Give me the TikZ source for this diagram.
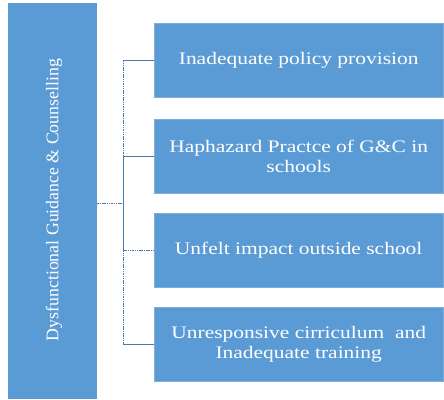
\documentclass[tikz,border=0pt]{standalone}
\usepackage{fontspec}
\setmainfont{Liberation Serif}
\newfontfamily\widefont[FakeStretch=1.22]{Liberation Serif}
\definecolor{boxblue}{HTML}{5B9BD5}
\definecolor{linkblue}{HTML}{4A7AB0}
\begin{document}
\begin{tikzpicture}[x=1pt,y=-1pt,
  causebox/.style={draw=boxblue!80!white, fill=boxblue, text=white, anchor=north west,
    minimum width=289pt, minimum height=74pt, align=center, inner sep=0pt,
    font=\widefont\fontsize{17.6}{19.5}\selectfont},
  mainbox/.style={fill=boxblue, text=white, anchor=north west,
    minimum width=89pt, minimum height=396pt, inner sep=0pt},
  link/.style={draw=linkblue, line width=0.7pt},
  linkdash/.style={link, dash pattern=on 1.5pt off 0.8pt}]
\useasboundingbox (0,0) rectangle (444,399);

% main topic, written upward
\node[mainbox] (main) at (8,3) {};
\node[text=white, rotate=90, font=\fontsize{17.8}{20}\selectfont] (title) at (54,200)
  {Dysfunctional Guidance \& Counselling};

% the four causes
\node[causebox] (c1) at (154,23) {Inadequate policy provision};
\node[causebox] (c2) at (154,119) {Haphazard Practce of G\&C in\\schools};
\node[causebox] (c3) at (154,213) {Unfelt impact outside school};
\node[causebox] (c4) at (154,307) {Unresponsive cirriculum\ \ and\\Inadequate training};

% bracket joining the topic to its causes
\coordinate (hub) at (123,203);
\coordinate (j1) at (hub |- c1.west);
\coordinate (j2) at (hub |- c2.west);
\coordinate (j3) at (hub |- c3.west);
\coordinate (j4) at (hub |- c4.west);
\draw[linkdash] (main.east |- hub) -- (hub);
\draw[linkdash] (j1) -- (j2);
\draw[link] (j2) -- (j3);
\draw[linkdash] (j3) -- (j4);
\draw[link] (j1) -- (c1.west);
\draw[link] (j2) -- (c2.west);
\draw[linkdash] (j3) -- (c3.west);
\draw[link] (j4) -- (c4.west);
\end{tikzpicture}
\end{document}
